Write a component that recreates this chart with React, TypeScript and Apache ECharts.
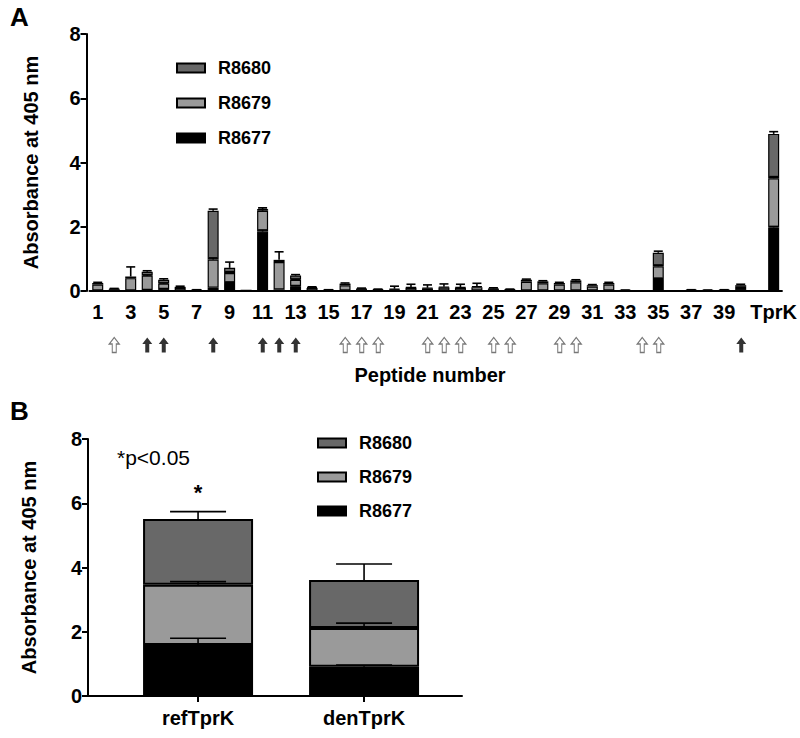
import React, { useEffect, useRef } from 'react';
import * as echarts from 'echarts';

const FONT = "'Liberation Sans', Arial, Helvetica, sans-serif";

// Panel A
const peptideCats = ['1','2','3','4','5','6','7','8','9','10','11','12','13','14','15','16','17','18','19','20',
  '21','22','23','24','25','26','27','28','29','30','31','32','33','34','35','36','37','38','39','40','','TprK'];

const r8677A = [0.02,0.01,0.02,0.03,0.06,0.01,0.01,0.10,0.25,0.01,1.85,0.05,0.15,0.01,0.01,0.02,0.02,0.01,0.02,0.02,
  0.02,0.02,0.02,0.02,0.02,0.01,0.02,0.02,0.02,0.02,0.02,0.02,0.01,0.00,0.37,0.00,0.01,0.01,0.01,0.06,null,1.98];
const r8679A = [0.18,0.04,0.38,0.45,0.17,0.08,0.01,0.88,0.31,0.01,0.65,0.85,0.20,0.08,0.01,0.16,0.04,0.02,0.03,0.08,
  0.06,0.09,0.08,0.10,0.04,0.03,0.27,0.22,0.18,0.25,0.12,0.18,0.01,0.00,0.40,0.00,0.01,0.01,0.01,0.07,null,1.53];
const r8680A = [0.05,0.02,0.05,0.12,0.12,0.04,0.01,1.52,0.16,0.00,0.05,0.07,0.13,0.03,0.01,0.05,0.02,0.02,0.02,0.02,
  0.02,0.02,0.02,0.03,0.02,0.01,0.06,0.06,0.05,0.06,0.04,0.05,0.00,0.00,0.42,0.00,0.01,0.00,0.01,0.05,null,1.38];

const err8677A = [0,0,0,0,0,0,0,0,0.03,0,0.05,0,0.02,0,0,0,0,0,0,0,
  0,0,0,0,0,0,0,0,0,0,0,0,0,0,0.03,0,0,0,0,0,null,0.03];
const err8679A = [0,0,0,0.02,0.02,0,0,0.05,0.04,0,0.04,0,0.02,0,0,0,0,0,0,0,
  0,0,0,0,0,0,0,0,0,0,0,0,0,0,0.04,0,0,0,0,0,null,0.05];
const err8680A = [0.02,0.01,0.30,0.03,0.03,0.02,0.01,0.05,0.18,0,0.04,0.25,0.03,0.01,0.01,0.02,0.01,0.01,0.08,0.09,
  0.09,0.09,0.09,0.09,0.02,0.01,0.02,0.02,0.02,0.02,0.02,0.02,0.01,0,0.05,0,0.01,0.01,0.01,0.03,null,0.07];

const openArrows = ['2','16','17','18','21','22','23','25','26','29','30','34','35'];
const filledArrows = ['4','5','8','11','12','13','40'];

// Panel B
const antigenCats = ['refTprK', 'denTprK'];
const r8677B = [1.59, 0.91];
const r8679B = [1.87, 1.21];
const r8680B = [2.05, 1.49];
const err8677B = [0.21, 0.05];
const err8679B = [0.10, 0.15];
const err8680B = [0.23, 0.50];

const yTicks = [0, 2, 4, 6, 8];
const seriesNames = ['R8677', 'R8679', 'R8680'];
const colors = ['#000000', '#9a9a9a', '#686868'];

function errData(vals: (number | null)[][], errs: (number | null)[][]) {
  const out: number[][] = [];
  const n = vals[0].length;
  for (let i = 0; i < n; i++) {
    let cum = 0;
    for (let s = 0; s < vals.length; s++) {
      const v = vals[s][i];
      if (v == null) continue;
      cum += v;
      const e = errs[s][i];
      if (e != null && e > 0) out.push([i, cum, cum + e]);
    }
  }
  return out;
}

function errRender(capHalf: number) {
  return (params: any, api: any) => {
    const x = api.value(0);
    const lo = api.coord([x, api.value(1)]);
    const hi = api.coord([x, api.value(2)]);
    return {
      type: 'group',
      children: [
        { type: 'line', shape: { x1: lo[0], y1: lo[1], x2: hi[0], y2: hi[1] }, style: { stroke: '#000', lineWidth: 1.6 } },
        { type: 'line', shape: { x1: hi[0] - capHalf, y1: hi[1], x2: hi[0] + capHalf, y2: hi[1] }, style: { stroke: '#000', lineWidth: 1.6 } },
      ],
    };
  };
}

const arrowPath = 'path://M5,0 L10,6 L7,6 L7,14 L3,14 L3,6 L0,6 Z';

export default function App() {
  const ref = useRef<HTMLDivElement>(null);
  useEffect(() => {
    if (!ref.current) return;
    const chart = echarts.init(ref.current, undefined, { renderer: 'svg' });
    const showLabel = (index: number, value: string) => value === 'TprK' || (value !== '' && index % 2 === 0 && index < 40);

    const yAxisCommon = (gridIndex: number, offset: number) => ({
      type: 'value',
      gridIndex,
      min: 0,
      max: 8,
      interval: 2,
      offset,
      axisLine: { show: true, onZero: false, lineStyle: { color: '#000', width: 2 } },
      axisTick: { show: true, length: 6, lineStyle: { color: '#000', width: 2 } },
      axisLabel: { color: '#000', fontFamily: FONT, fontWeight: 'bold', fontSize: 20, margin: 6,
        formatter: (v: number) => (yTicks.includes(v) ? String(v) : '') },
      splitLine: { show: false },
      name: 'Absorbance at 405 nm',
      nameLocation: 'middle',
      nameGap: 46 + (3 - offset),
      nameTextStyle: { color: '#000', fontFamily: FONT, fontWeight: 'bold', fontSize: 20 },
    });

    const legendCommon = {
      orient: 'vertical',
      icon: 'rect',
      padding: 0,
      itemWidth: 28,
      itemHeight: 9,
      itemGap: 13,
      data: ['R8680', 'R8679', 'R8677'],
      textStyle: { color: '#000', fontFamily: FONT, fontWeight: 'bold', fontSize: 18, lineHeight: 22, padding: [0, 0, 0, 8] },
      selectedMode: false,
    };

    const valsA = [r8677A, r8679A, r8680A];
    const valsB = [r8677B, r8679B, r8680B];

    const option: any = {
      animation: false,
      textStyle: { fontFamily: FONT },
      grid: [
        { left: 89.5, width: 693, top: 34, height: 257 },
        { left: 89.5, width: 693, top: 336, height: 18 },
        { left: 88, width: 374, top: 439, height: 257 },
      ],
      legend: [
        { ...legendCommon, left: 176, top: 57 },
        { ...legendCommon, left: 317, top: 432, itemGap: 12 },
      ],
      xAxis: [
        {
          type: 'category', gridIndex: 0, data: peptideCats,
          axisLine: { onZero: false, lineStyle: { color: '#000', width: 2 } },
          axisTick: { alignWithLabel: true, interval: showLabel, length: 7, lineStyle: { color: '#000', width: 2 } },
          axisLabel: { interval: showLabel, color: '#000', fontFamily: FONT, fontWeight: 'bold', fontSize: 20, margin: 11 },
        },
        { type: 'category', gridIndex: 1, data: peptideCats, show: false },
        {
          type: 'value', gridIndex: 2, min: -0.663, max: 1.59,
          axisLine: { show: true, onZero: false, lineStyle: { color: '#000', width: 2 } },
          axisTick: { show: true, customValues: [0, 1], length: 6, lineStyle: { color: '#000', width: 2 } },
          axisLabel: { show: true, customValues: [0, 1], formatter: (v: number) => antigenCats[Math.round(v)] ?? '',
            color: '#000', fontFamily: FONT, fontWeight: 'bold', fontSize: 20, margin: 12 },
          splitLine: { show: false },
        },
      ],
      yAxis: [
        yAxisCommon(0, 3),
        { type: 'value', gridIndex: 1, min: 0, max: 1, show: false },
        yAxisCommon(2, 0),
      ],
      series: [
        ...seriesNames.map((name, s) => ({
          type: 'bar', name, xAxisIndex: 0, yAxisIndex: 0, stack: 'a', barWidth: 11,
          data: valsA[s],
          itemStyle: { color: colors[s], borderColor: '#000', borderWidth: 1.2 },
        })),
        {
          type: 'custom', name: 'errA', xAxisIndex: 0, yAxisIndex: 0, z: 5,
          renderItem: errRender(4.5),
          encode: { x: 0, y: [1, 2] },
          data: errData(valsA, [err8677A, err8679A, err8680A]),
        },
        {
          type: 'scatter', name: 'open', xAxisIndex: 1, yAxisIndex: 1, symbol: arrowPath, symbolSize: [10, 15],
          itemStyle: { color: '#fff', borderColor: '#555', borderWidth: 1.2 },
          data: openArrows.map((c) => [c, 0.5]),
        },
        {
          type: 'scatter', name: 'filled', xAxisIndex: 1, yAxisIndex: 1, symbol: arrowPath, symbolSize: [10, 15],
          itemStyle: { color: '#000' },
          data: filledArrows.map((c) => [c, 0.5]),
        },
        ...seriesNames.map((name, s) => ({
          type: 'bar', name, xAxisIndex: 2, yAxisIndex: 2, stack: 'b', barWidth: 110,
          // value first so that stacking is done on the y dimension
          data: valsB[s].map((v, i) => [v, i]),
          encode: { x: 1, y: 0 },
          itemStyle: { color: colors[s], borderColor: '#000', borderWidth: 2 },
        })),
        {
          type: 'custom', name: 'errB', xAxisIndex: 2, yAxisIndex: 2, z: 5,
          renderItem: errRender(28),
          encode: { x: 0, y: [1, 2] },
          data: errData(valsB, [err8677B, err8679B, err8680B]),
        },
      ],
      graphic: [
        { type: 'text', left: 10, top: 4, style: { text: 'A', fontFamily: FONT, fontWeight: 'bold', fontSize: 26, fill: '#000' } },
        { type: 'text', left: 10, top: 398, style: { text: 'B', fontFamily: FONT, fontWeight: 'bold', fontSize: 26, fill: '#000' } },
        { type: 'text', x: 430, y: 375, style: { text: 'Peptide number', fontFamily: FONT, fontWeight: 'bold', fontSize: 20, fill: '#000', align: 'center', verticalAlign: 'middle' } },
        { type: 'text', x: 117, y: 457, style: { text: '*p<0.05', fontFamily: FONT, fontSize: 21, fill: '#000', verticalAlign: 'middle' } },
        { type: 'text', x: 198, y: 492, style: { text: '*', fontFamily: FONT, fontWeight: 'bold', fontSize: 22, fill: '#000', align: 'center', verticalAlign: 'middle' } },
      ],
    };
    chart.setOption(option);
    return () => chart.dispose();
  }, []);
  return <div ref={ref} style={{ position: 'fixed', left: 0, top: 0, width: 800, height: 738, background: '#fff' }} />;
}
